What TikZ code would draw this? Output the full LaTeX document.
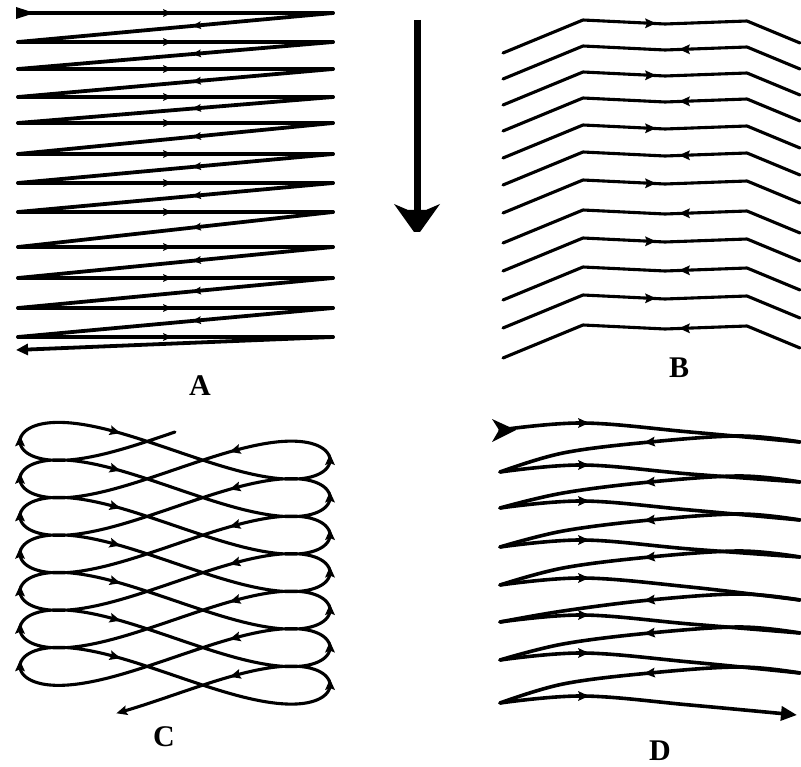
\documentclass[tikz,border=0pt]{standalone}
\usepackage{fontspec}
\setmainfont{Liberation Serif}
\usetikzlibrary{arrows.meta}
\begin{document}
\begin{tikzpicture}[x=1pt,y=-1pt,line cap=round,line join=round,
  ah/.pic={\fill (6,0) -- (-5,5) -- (-3,0) -- (-5,-5) -- cycle;},
  lineA/.style={line width=3.8pt},
  lineB/.style={line width=3.1pt},
  lineC/.style={line width=3.1pt},
  lineD/.style={line width=3.6pt},
  lbl/.style={font=\bfseries\fontsize{30}{30}\selectfont, inner sep=0pt}]
\fill[white] (0,0) rectangle (801,767);
\useasboundingbox (0,0) rectangle (801,767);

% ---------- Panel A ----------
\fill (16,7) -- (30,11.5) -- (30,14.5) -- (16,19) -- cycle;
\foreach \y in {13,42,69,97,123,154,183,212,247,278,308,337} {
  \draw[lineA] (18,\y) -- (333,\y);
  \pic[scale=0.8] at (167,\y) {ah};
}
\foreach \y/\n in {13/42,42/69,69/97,97/123,123/154,154/183,183/212,212/247,247/278,278/308,308/337} {
  \draw[lineA] (333,\y) -- (18,\n);
  \pgfmathsetmacro\amy{\y+(\n-\y)*136/315}
  \pgfmathsetmacro\aang{atan2(-(\n-\y),-315)}
  \pic[rotate=\aang,scale=0.8] at (197,\amy) {ah};
}
\draw[lineA,-{Triangle[length=12pt,width=11pt]}] (333,337) -- (16,350);

% ---------- central arrow ----------
\draw[line width=7pt,line cap=butt] (417,20) -- (417,212);
\fill (394,204) -- (408,210) -- (426,210) -- (440,204) -- (420,232) -- (414,232) -- cycle;

% ---------- Panel B ----------
\foreach \y [count=\i] in {20,46,72,98,125,152,180,210,238,267,295,325} {
  \draw[lineB] (503,\y+33) -- (583,\y) -- (665,\y+4) -- (747,\y+1) -- (800,\y+23);
  \ifodd\i
    \pic at (650,\y+3.3) {ah};
  \else
    \pic[rotate=180] at (685,\y+3.3) {ah};
  \fi
}

% ---------- Panel C ----------
\draw[lineC] plot[variable=\t, domain=0:44.33, samples=1400]
  ({175-155*sin(deg(\t))}, {432+5.968*\t+23.5*sin(deg(2*\t))});
\foreach \t in {1.571,7.854,14.137,20.420,26.704,32.987,39.270,
                4.712,10.996,17.279,23.562,29.845,36.128,42.412,
                2.742,9.025,15.308,21.591,27.875,34.158,40.441,
                5.883,12.166,18.450,24.733,31.016,37.299,43.580,44.33} {
  \pgfmathsetmacro\cpx{175-155*sin(deg(\t))}
  \pgfmathsetmacro\cpy{432+5.968*\t+23.5*sin(deg(2*\t))}
  \pgfmathsetmacro\cdx{-155*cos(deg(\t))}
  \pgfmathsetmacro\cdy{5.968+47*cos(deg(2*\t))}
  \pgfmathsetmacro\cang{atan2(-\cdy,\cdx)}
  \pic[rotate=\cang] at (\cpx,\cpy) {ah};
}

% ---------- Panel D ----------
\fill (492,419) -- (516,430) -- (492,442) -- (499,430) -- cycle;
\foreach \a/\r/\an in {430/442/472,472/482/508,508/520/547,547/557/585,585/600/622,622/633/660,660/673/703} {
  \draw[lineD] plot[smooth,tension=0.6] coordinates {(500,\a) (583,\a-7) (690,\a+2) (800,\r)};
  \draw[lineD] plot[smooth,tension=0.6] coordinates {(800,\r) (740,\r-6) (650,\r) (563,\r+11) (500,\an)};
  \pic at (583,\a-7) {ah};
  \pic[rotate=185] at (650,\r) {ah};
}
\draw[lineD,-{Triangle[length=16pt,width=14pt]}] plot[smooth,tension=0.6] coordinates {(500,703) (583,696) (690,705) (797,715)};
\pic at (583,696) {ah};

% ---------- labels ----------
\node[lbl] (la) at (200,386) {A};
\node[lbl] (lb) at (679,368) {B};
\node[lbl] (lc) at (164,737) {C};
\node[lbl] (ldd) at (660,751) {D};
\end{tikzpicture}
\end{document}
